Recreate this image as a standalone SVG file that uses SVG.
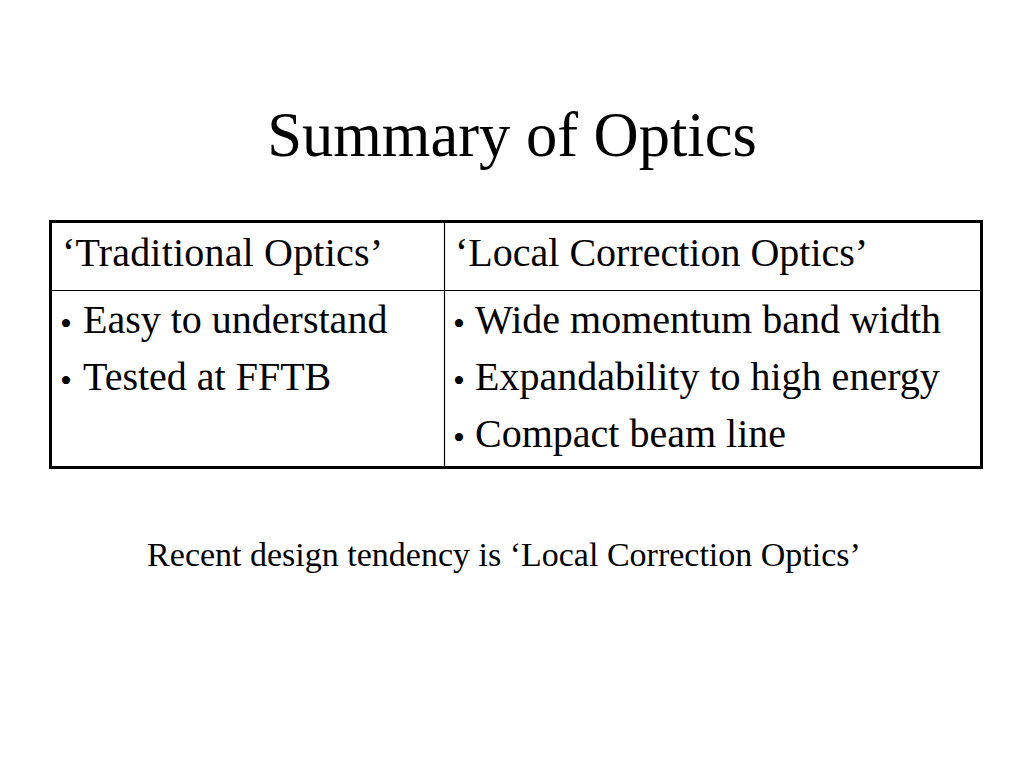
<svg xmlns="http://www.w3.org/2000/svg" width="1024" height="768" viewBox="0 0 1024 768">
<style>
text{font-family:"Liberation Serif","Times New Roman",serif;fill:#000}
.t{font-size:40px}
.dot{font-size:34px}
</style>
<rect width="1024" height="768" fill="#fff"/>
<text id="title" x="512" y="156" font-size="62.5" text-anchor="middle">Summary of Optics</text>
<g id="table">
<rect x="50.5" y="221.5" width="931" height="246" fill="none" stroke="#000" stroke-width="3"/>
<line x1="50" y1="290.5" x2="982" y2="290.5" stroke="#000" stroke-width="1.2"/>
<line x1="444.5" y1="221" x2="444.5" y2="468" stroke="#000" stroke-width="1.2"/>
</g>
<g id="col1">
<text class="t" x="62" y="266" textLength="321" lengthAdjust="spacing">‘Traditional Optics’</text>
<text class="dot" x="60" y="335">•</text>
<text class="t" x="83" y="333">Easy to understand</text>
<text class="dot" x="60" y="392">•</text>
<text class="t" x="83" y="390">Tested at FFTB</text>
</g>
<g id="col2">
<text class="t" x="455" y="266">‘Local Correction Optics’</text>
<text class="dot" x="453" y="335">•</text>
<text class="t" x="475" y="333">Wide momentum band width</text>
<text class="dot" x="453" y="392">•</text>
<text class="t" x="475" y="390">Expandability to high energy</text>
<text class="dot" x="453" y="449">•</text>
<text class="t" x="475" y="447">Compact beam line</text>
</g>
<text id="note" x="504" y="566" font-size="34" text-anchor="middle">Recent design tendency is ‘Local Correction Optics’</text>
</svg>
